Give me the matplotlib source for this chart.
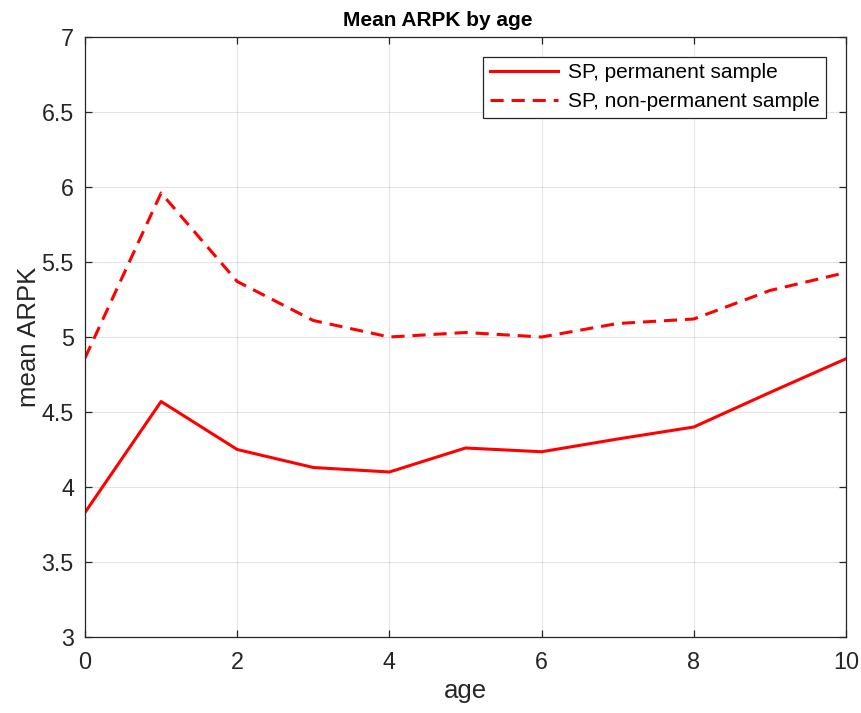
import matplotlib
matplotlib.use("Agg")
import matplotlib.pyplot as plt

age = [0, 1, 2, 3, 4, 5, 6, 7, 8, 9, 10]
permanent = [3.83, 4.57, 4.25, 4.13, 4.10, 4.26, 4.235, 4.32, 4.40, 4.63, 4.855]
non_permanent = [4.86, 5.96, 5.37, 5.11, 5.00, 5.03, 5.00, 5.09, 5.12, 5.31, 5.43]

xticks = [0, 2, 4, 6, 8, 10]
yticks = [3, 3.5, 4, 4.5, 5, 5.5, 6, 6.5, 7]

plt.rcParams['font.family'] = ['Liberation Sans', 'DejaVu Sans']

fig = plt.figure(figsize=(8.61, 7.13), dpi=100)
ax = fig.add_axes([85 / 861, 76 / 713, 761 / 861, 600 / 713])

lw = 2.2
ax.plot(age, permanent, color='#ff0000', lw=lw, label='SP, permanent sample')
ax.plot(age, non_permanent, color='#ff0000', lw=lw, dashes=(4.3, 2.6),
        label='SP, non-permanent sample')

ax.set_xlim(0, 10)
ax.set_ylim(3, 7)
ax.set_xticks(xticks)
ax.set_yticks(yticks)
ax.set_yticklabels([f'{t:g}' for t in yticks])

ax.grid(True, color='#262626', alpha=0.12, lw=0.8)
ax.set_axisbelow(True)
for s in ax.spines.values():
    s.set_color('#262626')
    s.set_linewidth(0.9)
ax.tick_params(direction='in', top=True, right=True, length=5, width=0.9,
               colors='#262626', labelsize=16.8)
ax.tick_params(axis='x', pad=10)
ax.tick_params(axis='y', pad=8)

ax.set_xlabel('age', fontsize=18.5, color='#262626', labelpad=4)
ax.set_ylabel('mean ARPK', fontsize=18.5, color='#262626', labelpad=0.5)
fig.text(438 / 861, 1 - 21 / 713, 'Mean ARPK by age', fontsize=15,
         fontweight='bold', ha='center', va='center')

leg = ax.legend(loc='upper right', bbox_to_anchor=(0.974, 0.967), fontsize=15,
                frameon=True, fancybox=False, framealpha=1, edgecolor='#262626',
                handlelength=3.3, handletextpad=0.45, borderpad=0.32,
                labelspacing=0.48, borderaxespad=0)
leg.get_frame().set_linewidth(0.9)

fig.savefig('out.png', dpi=100)
